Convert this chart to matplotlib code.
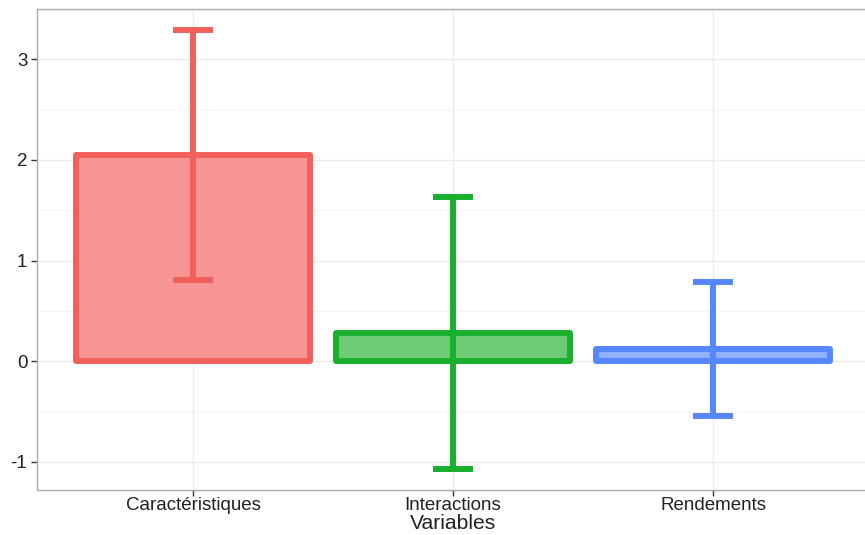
import matplotlib
matplotlib.use("Agg")
import matplotlib.pyplot as plt
import numpy as np

categories = ["Caractéristiques", "Interactions", "Rendements"]
means = [2.05, 0.28, 0.125]
errors = [1.24, 1.35, 0.665]
edge_colors = ["#F2605C", "#1AB02E", "#5588FF"]
fill_colors = ["#F79494", "#6CCB74", "#8FB0FF"]
y_ticks = [-1, 0, 1, 2, 3]

plt.rcParams['font.family'] = ['Liberation Sans', 'DejaVu Sans']

W, H = 865, 535
fig = plt.figure(figsize=(W / 100, H / 100), dpi=100)
left, right, top, bottom = 37, 869, 9, 490
ax = fig.add_axes([left / W, (H - bottom) / H, (right - left) / W, (bottom - top) / H])

x = np.arange(len(categories))
ax.set_xlim(-0.6, len(categories) - 0.4)
ax.set_ylim(-1.28, 3.5)

# grid
for yv in np.arange(-1, 3.6, 0.5):
    major = float(yv).is_integer()
    ax.axhline(yv, color="#EBEBEB" if major else "#F2F2F2", lw=1.0 if major else 0.6, zorder=0)
for xv in x:
    ax.axvline(xv, color="#EBEBEB", lw=1.0, zorder=0)

bars = ax.bar(x, means, width=0.9, color=fill_colors, edgecolor=edge_colors, linewidth=4.3, zorder=2)
for b in bars:
    b.set_joinstyle('round')

for xi, m, e, c in zip(x, means, errors, edge_colors):
    ax.errorbar(xi, m, yerr=e, fmt='none', ecolor=c, elinewidth=4.3,
                capsize=14.4, capthick=4.3, zorder=3)

ax.set_yticks(y_ticks)
ax.set_yticklabels([str(v) for v in y_ticks])
ax.set_xticks(x)
ax.set_xticklabels(categories)
ax.tick_params(axis='both', colors="#333333", length=4, width=1, labelsize=13.5, labelcolor="#222222", pad=3)
ax.tick_params(axis='x', pad=1)

for s in ax.spines.values():
    s.set_color("#AAAAAA")
    s.set_linewidth(1.0)

# x-axis title placed just under the tick labels, fitted to remaining space
fig.canvas.draw()
renderer = fig.canvas.get_renderer()
tick_bottom = min(t.get_window_extent(renderer).y0 for t in ax.get_xticklabels())
xc_disp = ax.transData.transform((1, 0))[0]
fs = 17.0
title = fig.text(xc_disp / W, (tick_bottom - 0.5) / H, "Variables", fontsize=fs,
                 color="#222222", ha='center', va='top')
while title.get_window_extent(renderer).y0 < 0.5 and fs > 8:
    fs -= 0.25
    title.set_fontsize(fs)

fig.savefig("out.png", dpi=100)
